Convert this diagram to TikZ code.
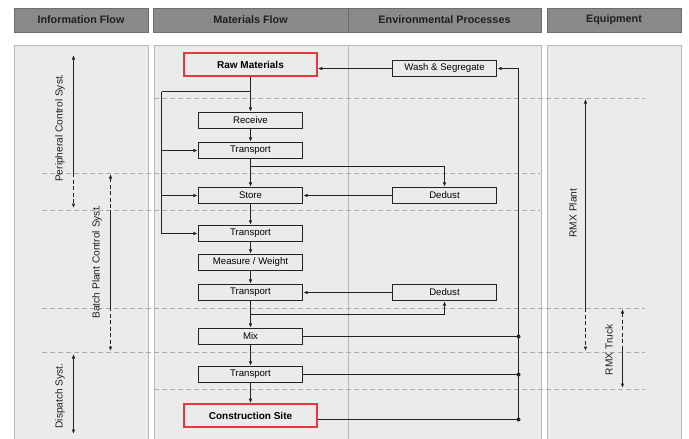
\documentclass[tikz,border=0pt]{standalone}
\usepackage{fontspec}
\setmainfont{Liberation Sans}
\usetikzlibrary{arrows.meta}
\definecolor{hdrfill}{HTML}{8A8A8A}
\definecolor{hdrline}{HTML}{6E6E6E}
\definecolor{panelfill}{HTML}{EBEBEB}
\definecolor{panelline}{HTML}{B8B8B8}
\definecolor{gridline}{HTML}{ABABAB}
\definecolor{ink}{HTML}{222222}
\definecolor{redline}{HTML}{E8383D}
\begin{document}
\begin{tikzpicture}[x=1pt,y=-1pt,
  hdr/.style={draw=hdrline, fill=hdrfill, line width=0.9pt, inner sep=0pt,
    minimum height=24pt, font=\fontsize{10.8}{12}\selectfont\bfseries, text=black!88},
  panel/.style={fill=panelfill, draw=panelline, line width=0.9pt},
  grid/.style={draw=gridline, line width=0.8pt, dash pattern=on 5pt off 3pt},
  proc/.style={draw=ink, fill=panelfill, line width=1.3pt, inner sep=0pt,
    minimum width=104pt, minimum height=16pt, font=\fontsize{9.6}{10}\selectfont},
  keybox/.style={draw=redline, fill=panelfill, line width=1.6pt, inner sep=0pt,
    minimum width=133pt, minimum height=23pt, font=\fontsize{10}{11}\selectfont\bfseries},
  conn/.style={draw=ink, line width=1.3pt},
  flow/.style={conn, -{Latex[length=4.5pt,width=3.6pt]}},
  both/.style={conn, {Latex[length=4.5pt,width=3.6pt]}-{Latex[length=4.5pt,width=3.6pt]}},
  dsh/.style={dash pattern=on 4pt off 2.5pt},
  vlab/.style={rotate=90, font=\fontsize{10.2}{11}\selectfont, text=black!88, inner sep=0pt},
  dot/.style={fill=ink}
]
\useasboundingbox (0,0) rectangle (689,439);
\clip (0,0) rectangle (689,439);
% headers
\node[hdr, minimum width=134pt] (hinfo) at (81,20) {Information Flow};
\node[hdr, minimum width=195pt] (hmat) at (250.5,20) {Materials Flow};
\node[hdr, minimum width=193pt] (henv) at (444.5,20) {Environmental Processes};
\node[hdr, minimum width=134pt] (hequ) at (614,20) {Equipment};
% panels
\path[panel] (14.5,45.5) rectangle (148.5,450);
\path[panel] (154.5,45.5) rectangle (541.5,450);
\path[panel] (547.5,45.5) rectangle (681.5,450);
\draw[panelline, line width=0.9pt] (348.5,45.5) -- (348.5,450);
% grid lines
\draw[grid] (154,98.5) -- (645,98.5);
\draw[grid] (42,173.5) -- (540,173.5);
\draw[grid] (42,210.5) -- (540,210.5);
\draw[grid] (42,308.5) -- (645,308.5);
\draw[grid] (42,352.5) -- (645,352.5);
\draw[grid] (154,389.5) -- (645,389.5);
% process boxes
\node[keybox] (raw) at (250.5,64.5) {Raw Materials};
\node[proc] (rec) at (250.5,120.5) {Receive};
\node[proc] (tr1) at (250.5,150.5) {Transport};
\node[proc] (st) at (250.5,195.5) {Store};
\node[proc] (tr2) at (250.5,233.5) {Transport};
\node[proc] (mw) at (250.5,262.5) {Measure / Weight};
\node[proc] (tr3) at (250.5,292.5) {Transport};
\node[proc] (mix) at (250.5,336.5) {Mix};
\node[proc] (tr4) at (250.5,374.5) {Transport};
\node[keybox] (cs) at (250.5,415.5) {Construction Site};
\node[proc] (ws) at (444.5,68.5) {Wash \& Segregate};
\node[proc] (de1) at (444.5,195.5) {Dedust};
\node[proc] (de2) at (444.5,292.5) {Dedust};
% main flow
\draw[flow] (raw) -- (rec);
\draw[flow] (rec) -- (tr1);
\draw[flow] (tr1) -- (st);
\draw[flow] (st) -- (tr2);
\draw[flow] (tr2) -- (mw);
\draw[flow] (mw) -- (tr3);
\draw[flow] (tr3) -- (mix);
\draw[flow] (mix) -- (tr4);
\draw[flow] (tr4) -- (cs);
% left bypass
\coordinate (b0) at (250.5,91.5);
\coordinate (lx) at (161.5,91.5);
\draw[conn] (b0) -- (lx);
\draw[flow] (lx) -- (tr2.west -| lx) -- (tr2.west);
\draw[flow] (tr1.west -| lx) -- (tr1.west);
\draw[flow] (st.west -| lx) -- (st.west);
% dedust loops
\coordinate (d1) at (250.5,166.5);
\draw[flow] (d1) -- (d1 -| de1.north) -- (de1.north);
\draw[flow] (de1.west) -- (st.east);
\coordinate (d2) at (250.5,314.5);
\draw[flow] (d2) -- (d2 -| de2.south) -- (de2.south);
\draw[flow] (de2.west) -- (tr3.east);
% return loop
\coordinate (rb) at (518.5,419.5);
\coordinate (rt) at (518.5,68.5);
\coordinate (rm) at (518.5,336.5);
\coordinate (rn) at (518.5,374.5);
\draw[conn] (cs.east |- rb) -- (rb);
\draw[conn] (mix.east) -- (rm);
\draw[conn] (tr4.east) -- (rn);
\draw[flow] (rb) -- (rt) -- (ws.east);
\draw[flow] (ws.west) -- (ws.west -| raw.east);
\fill[dot] (rb) circle (2pt);
\fill[dot] (rm) circle (2pt);
\fill[dot] (rn) circle (2pt);
% information flow arrows
\coordinate (p1) at (73.5,55); \coordinate (p2) at (73.5,173); \coordinate (p3) at (73.5,208);
\draw[conn, {Latex[length=4.5pt,width=3.6pt]}-] (p1) -- (p2);
\draw[flow, dsh] (p2) -- (p3);
\node[vlab] (lp) at (60,128) {Peripheral Control Syst.};
\coordinate (q1) at (110.5,174); \coordinate (q2) at (110.5,210); \coordinate (q3) at (110.5,307); \coordinate (q4) at (110.5,351);
\draw[conn, dsh, {Latex[length=4.5pt,width=3.6pt]}-] (q1) -- (q2);
\draw[conn] (q2) -- (q3);
\draw[flow, dsh] (q3) -- (q4);
\node[vlab] (lb) at (97,262) {Batch Plant Control Syst.};
\coordinate (s1) at (73.5,354); \coordinate (s2) at (73.5,434);
\draw[both] (s1) -- (s2);
\node[vlab] (ld) at (60,396) {Dispatch Syst.};
% equipment arrows
\coordinate (e1) at (585.5,99); \coordinate (e2) at (585.5,308); \coordinate (e3) at (585.5,351);
\draw[conn, {Latex[length=4.5pt,width=3.6pt]}-] (e1) -- (e2);
\draw[flow, dsh] (e2) -- (e3);
\node[vlab] (le) at (573,213) {RMX Plant};
\coordinate (t1) at (622.5,309); \coordinate (t2) at (622.5,347); \coordinate (t3) at (622.5,388);
\draw[conn, dsh, {Latex[length=4.5pt,width=3.6pt]}-] (t1) -- (t2);
\draw[flow] (t2) -- (t3);
\node[vlab] (lt) at (609,350) {RMX Truck};
\end{tikzpicture}
\end{document}
